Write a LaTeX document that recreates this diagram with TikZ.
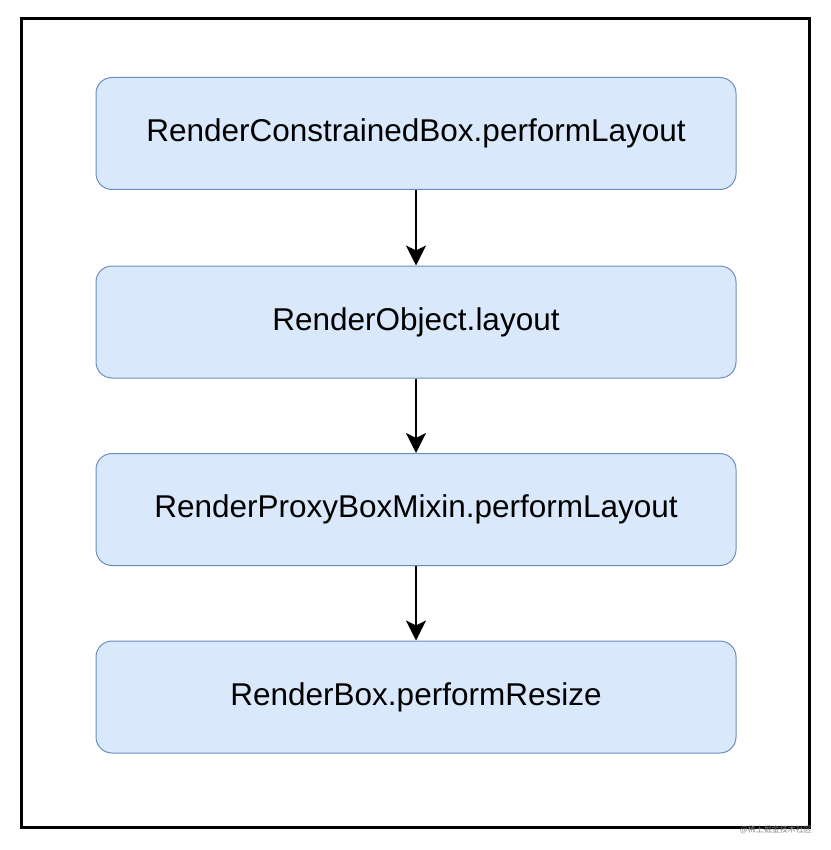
\documentclass[tikz,border=0pt]{standalone}
\usepackage{fontspec}
\setmainfont{Liberation Sans}
\newfontfamily\cjk{Noto Sans CJK SC}
\usetikzlibrary{arrows.meta}
\definecolor{boxfill}{HTML}{DAE8FC}
\definecolor{boxline}{HTML}{6C8EBF}
\tikzset{
  stepbox/.style={draw=boxline, fill=boxfill, rounded corners=16pt, line width=1pt,
    minimum width=640pt, minimum height=112pt, inner sep=0pt,
    font=\fontsize{31.5}{36}\selectfont},
  flow/.style={line width=2.5pt, -{Stealth[length=20pt,width=20pt,inset=5pt]}}
}
\begin{document}
\begin{tikzpicture}[x=1pt,y=-1pt]
\useasboundingbox (0,0) rectangle (830,850);
\fill[white] (0,0) rectangle (830,850);
\draw[line width=3pt] (21,19) rectangle (809,827);
\node[stepbox] (a) at (416,133.5) {RenderConstrainedBox.performLayout};
\node[stepbox] (b) at (416,322) {RenderObject.layout};
\node[stepbox] (c) at (416,509.5) {RenderProxyBoxMixin.performLayout};
\node[stepbox] (d) at (416,697) {RenderBox.performResize};
\draw[flow] (a) -- (b);
\draw[flow] (b) -- (c);
\draw[flow] (c) -- (d);
\node[font=\cjk\fontsize{8}{8}\selectfont, text=gray, anchor=east, inner sep=0pt] (wm) at (812,830) {@稀土掘金技术社区};
\end{tikzpicture}
\end{document}
